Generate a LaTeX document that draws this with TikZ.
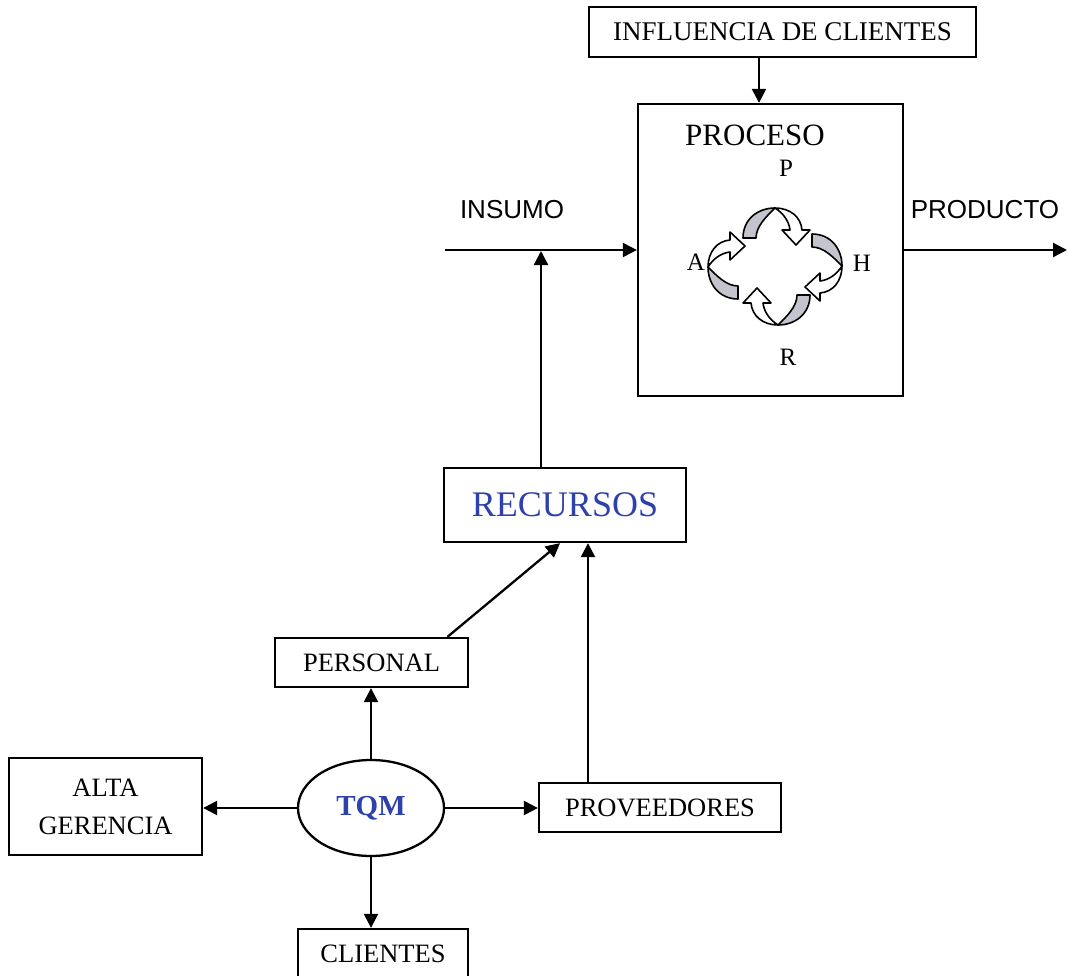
\documentclass[tikz,border=0pt]{standalone}
\usepackage{fontspec}
\setmainfont{Liberation Serif}
\newfontfamily\arialfont{Liberation Sans}
\usetikzlibrary{arrows.meta,calc,shapes.geometric}

\definecolor{ribbongray}{RGB}{196,196,206}
\definecolor{titleblue}{RGB}{45,65,170}

% one twisted ribbon arrow of the cycle: tail on the left, head on the right, bulging upwards
\newcommand{\cyclearrow}[2]{%
  \begin{scope}[shift={#1},rotate=#2,line width=1.6pt,line join=round]
    \filldraw[fill=ribbongray,draw=black]
      (-33,0) .. controls (-33,-19) and (-18,-30) .. (-1,-30)
      .. controls (-9,-22) and (-20,-12) .. (-20,0) -- cycle;
    \filldraw[fill=white,draw=black]
      (-1,-30) .. controls (14,-30) and (25,-21) .. (26,-8)
      -- (34,-8) -- (20,7) -- (6,-8) -- (14,-8)
      .. controls (13,-17) and (7,-25) .. (-1,-30) -- cycle;
  \end{scope}}

\begin{document}
\begin{tikzpicture}[x=1pt,y=-1pt,
  box/.style={draw,line width=2.3pt,rectangle,inner sep=0pt,align=center,
    font=\fontsize{26.5}{38}\selectfont},
  conn/.style={line width=2.3pt,-{Triangle[length=14pt,width=14pt]}},
  serif/.style={font=\fontsize{#1}{#1}\selectfont,inner sep=0pt},
  sans/.style={font=\arialfont\fontsize{#1}{#1}\selectfont,inner sep=0pt}]

\useasboundingbox (0,0) rectangle (1067,976);
\clip (0,0) rectangle (1067,976);

% process block
\node[box,minimum width=387pt,minimum height=50pt,font=\fontsize{27}{27}\selectfont] (infl) at (782.5,32) {INFLUENCIA DE CLIENTES};
\node[box,minimum width=265pt,minimum height=292pt] (proc) at (770.5,250) {};
\node[serif=31] (proctitle) at (755,135) {PROCESO};
\node[serif=25] (lp) at (786,168) {P};
\node[serif=25] (la) at (696,262) {A};
\node[serif=25] (lh) at (862,263) {H};
\node[serif=25] (lr) at (788,357) {R};
\coordinate (inflFoot) at ($(infl.south)+(-23.5,0)$);
\draw[conn] (inflFoot) -- (inflFoot |- proc.north);

% PDCA cycle
\cyclearrow{(776,238)}{0}
\cyclearrow{(812,267)}{-90}
\cyclearrow{(777,295)}{180}
\cyclearrow{(738,266)}{90}

% input and output
\node[sans=26] (insumo) at (512,210) {INSUMO};
\node[sans=26] (producto) at (985,210) {PRODUCTO};
\coordinate (inStart) at (445,250);
\coordinate (outEnd) at (1067,250);
\coordinate (junction) at (541,251);
\draw[conn] (inStart) -- (proc.west);
\draw[conn] (proc.east) -- (outEnd);

% resources
\node[box,minimum width=242pt,minimum height=74pt,text=titleblue,
  font=\fontsize{36}{36}\selectfont] (recursos) at (565,505) {RECURSOS};
\draw[conn] (recursos.north -| junction) -- (junction);

% TQM and its outputs
\node[draw,ellipse,line width=2.3pt,minimum width=146pt,minimum height=96pt,inner sep=0pt,
  text=titleblue,font=\bfseries\fontsize{29}{29}\selectfont] (tqm) at (371,808) {TQM};
\node[box,minimum width=193pt,minimum height=49pt] (personal) at (371.5,662.5) {PERSONAL};
\node[box,minimum width=193pt,minimum height=97pt] (alta) at (105.5,806.5) {ALTA\\GERENCIA};
\node[box,minimum width=242pt,minimum height=49pt] (prov) at (660,807.5) {PROVEEDORES};
\node[box,minimum width=170pt,minimum height=49pt] (clientes) at (383,953.5) {CLIENTES};

\draw[conn] (tqm.north) -- (tqm.north |- personal.south);
\draw[conn] (tqm.south) -- (tqm.south |- clientes.north);
\draw[conn] (tqm.west) -- (tqm.west -| alta.east);
\draw[conn] (tqm.east) -- (tqm.east -| prov.west);

\coordinate (persFoot) at ($(personal.north)+(76,0)$);
\coordinate (provFoot) at ($(prov.north)+(-72,0)$);
\draw[conn] (persFoot) -- ($(recursos.south)+(-5,0)$);
\draw[conn] (provFoot) -- (provFoot |- recursos.south);
\end{tikzpicture}
\end{document}
